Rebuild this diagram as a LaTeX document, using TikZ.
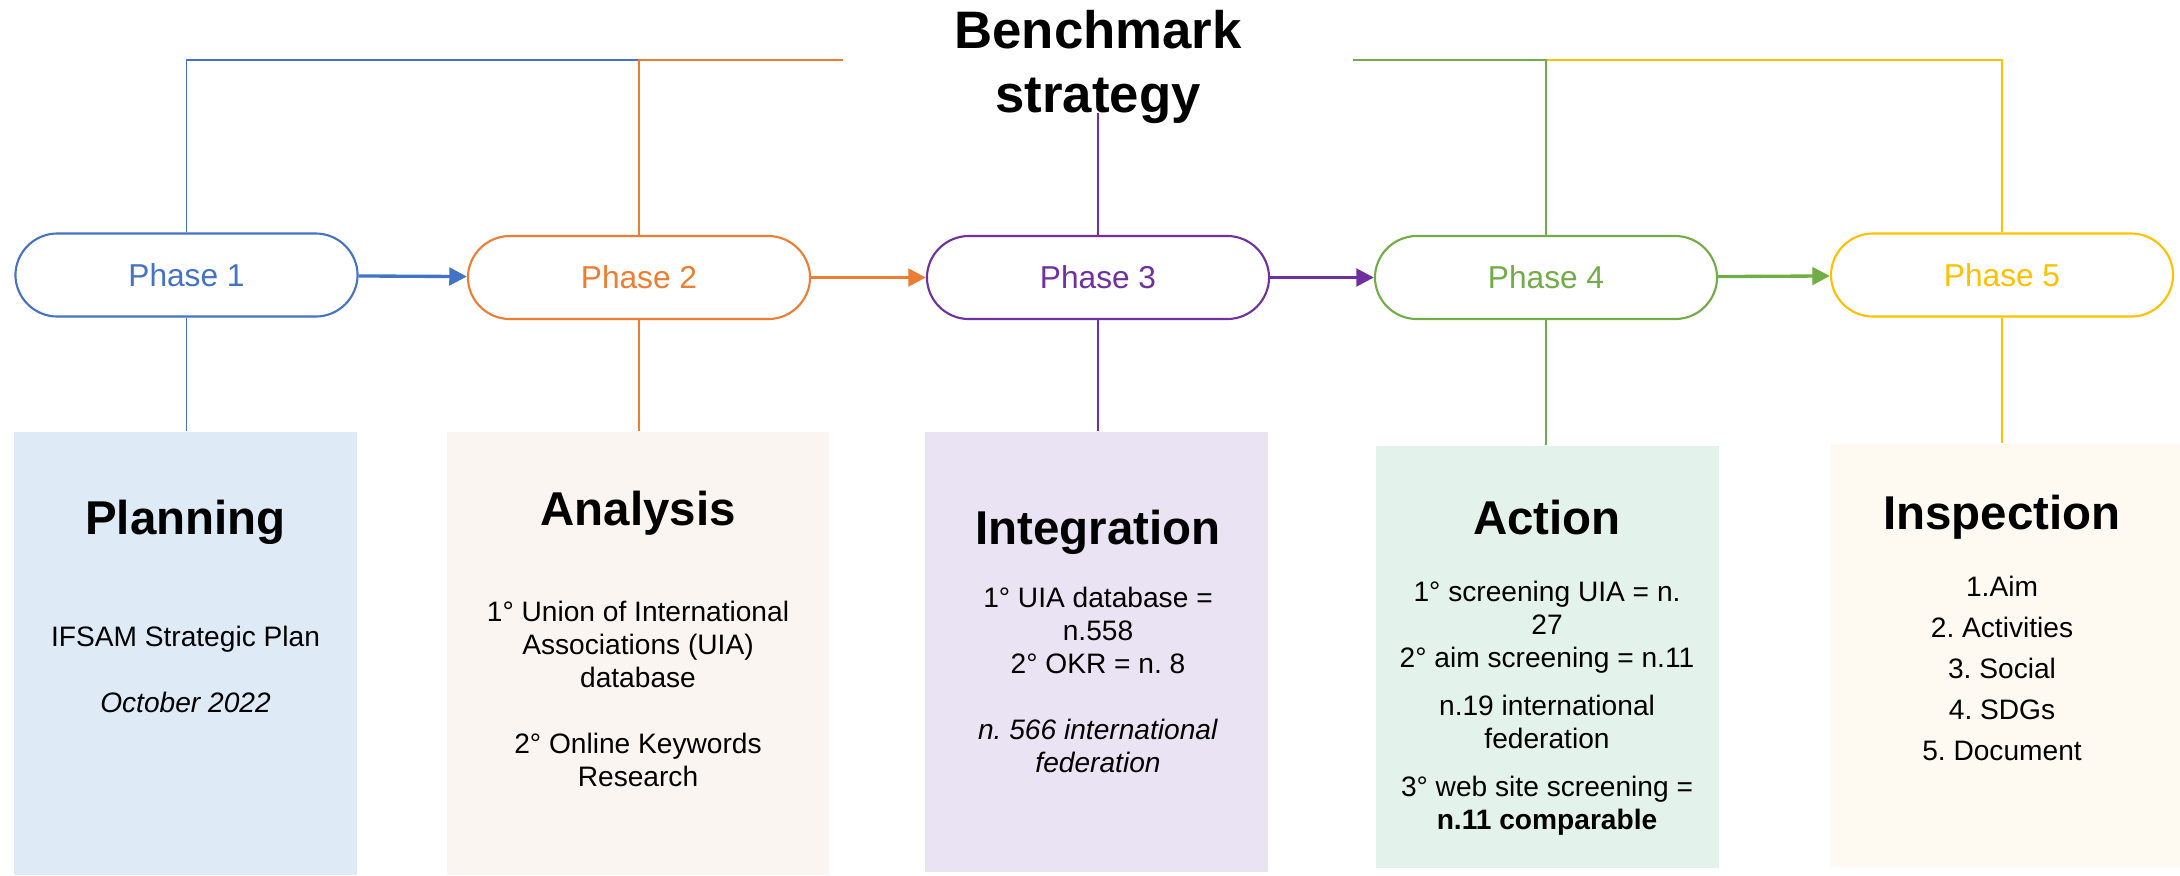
\documentclass[tikz,border=0pt]{standalone}
\usepackage{fontspec}
\setmainfont{Liberation Sans}
\usetikzlibrary{arrows.meta}
\frenchspacing
\definecolor{pblue}{HTML}{4472C4}
\definecolor{porange}{HTML}{ED7D31}
\definecolor{ppurple}{HTML}{7030A0}
\definecolor{pgreen}{HTML}{70AD47}
\definecolor{pyellow}{HTML}{FFC000}
\definecolor{fblue}{HTML}{DEEBF7}
\definecolor{forange}{HTML}{FBF5F1}
\definecolor{fpurple}{HTML}{EAE3F3}
\definecolor{fgreen}{HTML}{E3F3EC}
\definecolor{fyellow}{HTML}{FEFAF2}
\begin{document}
\begin{tikzpicture}[x=.01cm,y=-.01cm,line width=.45pt,
  phase/.style={draw,line width=.6pt,rounded corners=.42cm,minimum width=3.42cm,minimum height=.83cm,inner sep=0pt,fill=white,font=\fontsize{9}{11}\selectfont},
  colbox/.style={inner sep=0pt,draw=none},
  head/.style={anchor=base,inner sep=0pt,font=\fontsize{13.5}{16}\selectfont\bfseries},
  body/.style={anchor=north,inner sep=0pt,align=center,font=\fontsize{8}{9.4}\selectfont},
  link/.style={line width=.95pt,-{Triangle[length=5pt,width=5pt]}}]
\useasboundingbox (0,0) rectangle (2180,875);
\node[inner sep=0pt,align=center,font=\fontsize{15}{18.2}\selectfont\bfseries] (title) at (1098,67) {Benchmark\\strategy};
\node[phase,draw=pblue,text=pblue] (p1) at (186.5,275) {Phase 1};
\node[phase,draw=porange,text=porange] (p2) at (639,277.5) {Phase 2};
\node[phase,draw=ppurple,text=ppurple] (p3) at (1098,277.5) {Phase 3};
\node[phase,draw=pgreen,text=pgreen] (p4) at (1546,277.5) {Phase 4};
\node[phase,draw=pyellow,text=pyellow] (p5) at (2002,275) {Phase 5};
\node[colbox,fill=fblue,minimum width=3.43cm,minimum height=4.43cm] (b1) at (185.5,653.5) {};
\node[colbox,fill=forange,minimum width=3.82cm,minimum height=4.43cm] (b2) at (638,653.5) {};
\node[colbox,fill=fpurple,minimum width=3.43cm,minimum height=4.40cm] (b3) at (1096.5,652) {};
\node[colbox,fill=fgreen,minimum width=3.43cm,minimum height=4.22cm] (b4) at (1547.5,657) {};
\node[colbox,fill=fyellow,minimum width=3.49cm,minimum height=4.23cm] (b5) at (2005.5,655.5) {};
\coordinate (jl) at (843,60);
\coordinate (jr) at (1353,60);
\coordinate (t3) at (1098,113);
\draw[pblue] (p1.north) |- (p2.north |- jl);
\draw[porange] (p2.north) |- (jl);
\draw[ppurple] (t3) -- (p3.north);
\draw[pyellow] (p5.north) |- (p4.north |- jr);
\draw[pgreen] (p4.north) |- (jr);
\draw[pblue] (p1.south) -- (p1.south |- b1.north);
\draw[porange] (p2.south) -- (p2.south |- b2.north);
\draw[ppurple] (p3.south) -- (p3.south |- b3.north);
\draw[pgreen] (p4.south) -- (p4.south |- b4.north);
\draw[pyellow] (p5.south) -- (p5.south |- b5.north);
\draw[link,pblue] (p1) -- (p2);
\draw[link,porange] (p2) -- (p3);
\draw[link,ppurple] (p3) -- (p4);
\draw[link,pgreen] (p4) -- (p5);
\node[head] (h1) at (185.5,534) {Planning};
\node[head] (h2) at (638,525) {Analysis};
\node[head] (h3) at (1098,544) {Integration};
\node[head] (h4) at (1547,534) {Action};
\node[head] (h5) at (2002,529) {Inspection};
\node[body] (t1) at (185.5,625) {IFSAM Strategic Plan\\[9.4pt]\textit{October 2022}};
\node[body] (t2) at (638,600) {1° Union of International\\Associations (UIA)\\database\\[9.4pt]2° Online Keywords\\Research};
\node[body] (t3b) at (1098,586) {1° UIA database =\\n.558\\2° OKR = n. 8\\[9.4pt]\textit{n. 566 international}\\\textit{federation}};
\node[body] (t4) at (1547,580) {1° screening UIA = n.\\27\\2° aim screening = n.11\\[4.3pt]n.19 international\\federation\\[4.3pt]3° web site screening =\\\textbf{n.11 comparable}};
\node[body] (t5) at (2002,575) {1.Aim\\[2.3pt]2. Activities\\[2.3pt]3. Social\\[2.3pt]4. SDGs\\[2.3pt]5. Document};
\end{tikzpicture}
\end{document}
